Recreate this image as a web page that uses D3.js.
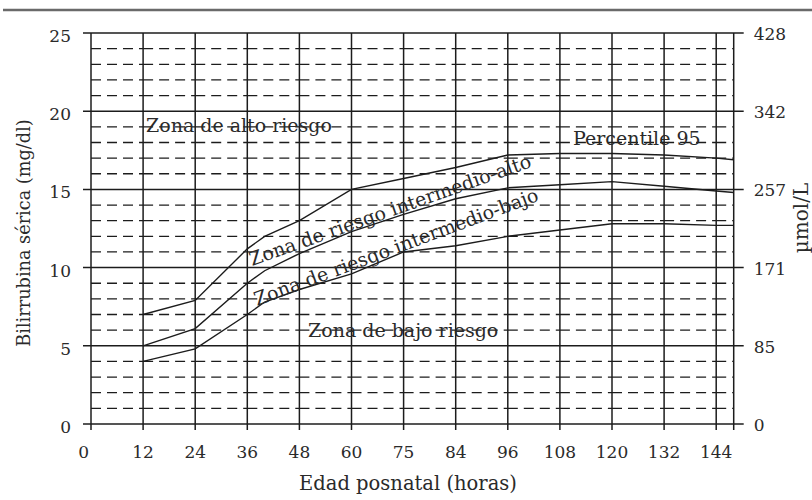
<!DOCTYPE html>
<html>
<head>
<meta charset="utf-8">
<script src="https://cdn.jsdelivr.net/npm/d3@7"></script>
<style>
  body { margin: 0; background: #fff; }
  text { font-family: "DejaVu Serif", "Liberation Serif", serif; fill: #2a2a2a; }
</style>
</head>
<body>
<div class="canvas"></div>
<script>
// ---- DATA --- //
const hourTicks = [0, 12, 24, 36, 48, 60, 75, 84, 96, 108, 120, 132, 144];
const mgTicks = [0, 5, 10, 15, 20, 25];
const umolTicks = [0, 85, 171, 257, 342, 428];

const curveHours = [12, 24, 36, 40, 48, 60, 75, 84, 96, 108, 120, 132, 144, 148];
const p95 = [7.0, 7.9, 11.2, 12.0, 13.0, 15.0, 15.7, 16.4, 17.2, 17.3, 17.3, 17.2, 17.0, 16.9];
const p75 = [5.0, 6.1, 9.0, 9.8, 10.9, 12.3, 13.4, 14.4, 15.1, 15.3, 15.5, 15.2, 14.9, 14.8];
const p40 = [4.0, 4.8, 7.0, 7.8, 8.6, 9.6, 11.0, 11.4, 12.0, 12.4, 12.8, 12.8, 12.7, 12.7];

// ---- SETUP --- //
const width = 812, height = 500;
const x0 = 91, step = 52.1;
const plotTop = 33, plotBottom = 424;

const svg = d3.select('.canvas')
    .append('svg')
    .attr('width', width)
    .attr('height', height);

// hours are spaced evenly per tick (not linear in time), right frame at 148h
const xDomain = hourTicks.concat(148);
const xRange = hourTicks.map((h, i) => x0 + step * i).concat(x0 + step * 12 + 17.5);
const x = d3.scaleLinear().domain(xDomain).range(xRange);
const y = d3.scaleLinear().domain([0, 25]).range([plotBottom, plotTop]);
const yR = d3.scaleLinear().domain([0, 25 * 17.1]).range([plotBottom, plotTop]);

const xLeft = x(0), xRight = x(148);
const ink = '#1c1c1c';

// top rule
svg.append('line')
    .attr('x1', 3).attr('x2', width).attr('y1', 10).attr('y2', 10)
    .attr('stroke', '#6a6a6a').attr('stroke-width', 2.5);

const grid = svg.append('g');

// dashed minor lines, restarted in every column
const cols = xDomain.slice(0, -1).map((h, i) => [x(h), x(xDomain[i + 1])]);
d3.range(1, 25).filter(v => v % 5 !== 0).forEach(v => {
    grid.selectAll(null)
        .data(cols)
        .join('line')
        .attr('x1', d => d[0]).attr('x2', d => d[1])
        .attr('y1', y(v)).attr('y2', y(v))
        .attr('stroke', ink).attr('stroke-width', 1.3)
        .attr('stroke-dasharray', '10,6');
});

// major horizontal lines with ticks on both sides
grid.selectAll('.major')
    .data(mgTicks)
    .join('line')
    .attr('x1', xLeft - 8).attr('x2', xRight + 10)
    .attr('y1', d => y(d)).attr('y2', d => y(d))
    .attr('stroke', ink).attr('stroke-width', 1.5);

// vertical lines
grid.selectAll('.vert')
    .data(xDomain)
    .join('line')
    .attr('x1', d => x(d)).attr('x2', d => x(d))
    .attr('y1', plotTop).attr('y2', plotBottom + 6)
    .attr('stroke', ink).attr('stroke-width', 1.5);

// ---- AXIS LABELS --- //
svg.selectAll('.ytick')
    .data(mgTicks)
    .join('text')
    .attr('x', xLeft - 20)
    .attr('y', d => y(d) + 9)
    .attr('text-anchor', 'end')
    .attr('font-size', 17)
    .text(d => d);

svg.selectAll('.yrtick')
    .data(umolTicks)
    .join('text')
    .attr('x', xRight + 20)
    .attr('y', d => yR(d) + 7)
    .attr('font-size', 17)
    .text(d => d);

svg.selectAll('.xtick')
    .data(hourTicks)
    .join('text')
    .attr('x', d => d === 0 ? x(d) - 2 : x(d))
    .attr('y', 458)
    .attr('text-anchor', d => d === 0 ? 'end' : 'middle')
    .attr('font-size', 17)
    .text(d => d);

svg.append('text')
    .attr('x', 408).attr('y', 490)
    .attr('text-anchor', 'middle')
    .attr('font-size', 19.5)
    .text('Edad posnatal (horas)');

svg.append('text')
    .attr('transform', 'translate(30,233) rotate(-90)')
    .attr('text-anchor', 'middle')
    .attr('font-size', 17.7)
    .text('Bilirrubina sérica (mg/dl)');

svg.append('text')
    .attr('transform', 'translate(808,218) rotate(-90)')
    .attr('text-anchor', 'middle')
    .attr('font-size', 20)
    .text('µmol/L');

// ---- CURVES --- //
const line = d3.line()
    .x(d => x(d[0]))
    .y(d => y(d[1]));

[p95, p75, p40].forEach(s => {
    svg.append('path')
        .datum(curveHours.map((h, i) => [h, s[i]]))
        .attr('d', line)
        .attr('fill', 'none')
        .attr('stroke', ink)
        .attr('stroke-width', 1.4);
});

// ---- ZONE LABELS --- //
const zone = (txt, tx, ty, ang) => svg.append('text')
    .attr('transform', `translate(${tx},${ty}) rotate(${ang})`)
    .attr('font-size', 19)
    .text(txt);

zone('Zona de alto riesgo', 146, 132, 0);
zone('Percentile 95', 573, 145, 0);
zone('Zona de riesgo intermedio-alto', 252, 266, -19.5);
zone('Zona de riesgo intermedio-bajo', 257, 306, -20.5);
zone('Zona de bajo riesgo', 308, 337, 0);
</script>
</body>
</html>
